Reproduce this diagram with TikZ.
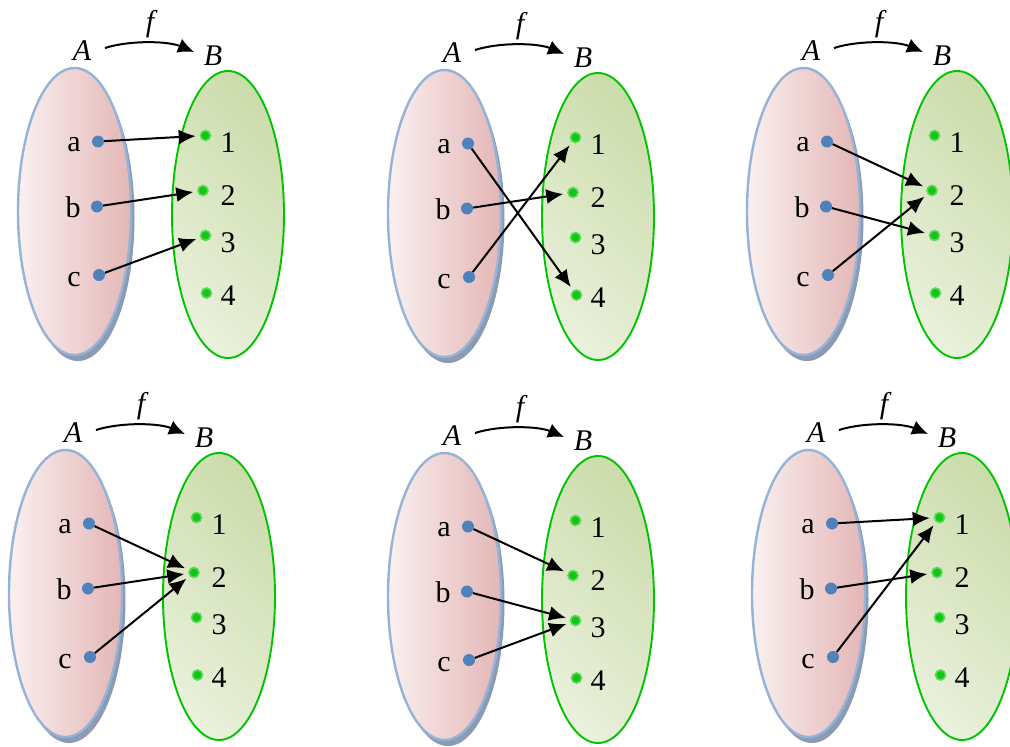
\documentclass[tikz,border=0pt]{standalone}
\usepackage{fontspec}
\setmainfont{Liberation Serif}
\usetikzlibrary{arrows.meta,shapes.geometric,shadows}

\definecolor{setAline}{HTML}{95B3D7}
\definecolor{setAlight}{HTML}{FAF0F0}
\definecolor{setAdark}{HTML}{E4B6B6}
\definecolor{setAshadow}{HTML}{8A9BB3}
\definecolor{setBline}{HTML}{00C400}
\definecolor{setBlight}{HTML}{F3F7EB}
\definecolor{setBdark}{HTML}{C2D69C}
\definecolor{dotA}{HTML}{4F81BD}
\definecolor{dotB}{HTML}{12C612}
\definecolor{dotBring}{HTML}{5CD85C}

\tikzset{
  setA/.style={ellipse, minimum width=113pt, minimum height=287pt, inner sep=0pt,
    draw=setAline, line width=2.4pt, left color=setAlight, right color=setAdark,
    drop shadow={shadow xshift=3.5pt, shadow yshift=-6pt, fill=setAshadow, opacity=1}},
  setB/.style={ellipse, minimum width=112pt, minimum height=287pt, inner sep=0pt,
    draw=setBline, line width=1.9pt,
    path picture={\shade[bottom color=setBlight, top color=setBdark, shading angle=-45]
      ([shift={(-170pt,-170pt)}]path picture bounding box.center)
      rectangle ([shift={(170pt,170pt)}]path picture bounding box.center);}},
  adot/.style={circle, fill=dotA, inner sep=0pt, minimum size=12pt},
  bdot/.style={circle, fill=dotB, draw=dotBring, line width=1.6pt, inner sep=0pt, minimum size=10pt},
  lbl/.style={font=\fontsize{30}{30}\selectfont, anchor=base, inner sep=0pt},
  setname/.style={font=\fontsize{30}{30}\selectfont\itshape, anchor=base, inner sep=0pt},
  maparrow/.style={-{Latex[length=17pt,width=15pt]}, line width=2pt, shorten >=4pt},
  farrow/.style={-{Latex[length=16pt,width=15pt]}, line width=2pt},
}

% One arrow diagram: #1 name prefix, (#2,#3) offset, #4/#5/#6 images of a/b/c
\newcommand\mappanel[6]{%
\begin{scope}[shift={(#2,#3)}]
  \node[setA] (#1-A) at (74.5,211.5) {};
  \node[setB] (#1-B) at (228,214.5) {};
  \node[adot] (#1-a) at (98,141.5) {};
  \node[adot] (#1-b) at (97,206.5) {};
  \node[adot] (#1-c) at (99,275) {};
  \node[lbl] (#1-la) at (74,151) {a};
  \node[lbl] (#1-lb) at (73,217) {b};
  \node[lbl] (#1-lc) at (74,286) {c};
  \node[bdot] (#1-1) at (205.5,135.5) {};
  \node[bdot] (#1-2) at (203,190.5) {};
  \node[bdot] (#1-3) at (205.5,235.5) {};
  \node[bdot] (#1-4) at (206.5,293) {};
  \node[lbl] (#1-l1) at (228,152) {1};
  \node[lbl] (#1-l2) at (228,205) {2};
  \node[lbl] (#1-l3) at (228,252) {3};
  \node[lbl] (#1-l4) at (228,305) {4};
  \node[setname] (#1-nA) at (82,60) {A};
  \node[setname] (#1-nB) at (213,65) {B};
  \node[setname] (#1-nf) at (150,31) {f};
  \coordinate (#1-fs) at (105,48);
  \coordinate (#1-fe) at (194,52);
  \draw[farrow] (#1-fs) .. controls (130,40) and (168,41) .. (#1-fe);
  \draw[maparrow] (#1-a) -- (#1-#4);
  \draw[maparrow] (#1-b) -- (#1-#5);
  \draw[maparrow] (#1-c) -- (#1-#6);
\end{scope}}

\begin{document}
\begin{tikzpicture}[x=1pt,y=-1pt]
  \useasboundingbox[fill=white] (0,0) rectangle (1010,747);
  \mappanel{p1}{0}{0}{1}{2}{3}
  \mappanel{p2}{370}{2}{4}{2}{1}
  \mappanel{p3}{729}{0}{2}{3}{2}
  \mappanel{p4}{-9}{382}{2}{2}{2}
  \mappanel{p5}{370}{385}{2}{3}{3}
  \mappanel{p6}{734}{382}{1}{2}{1}
\end{tikzpicture}
\end{document}
